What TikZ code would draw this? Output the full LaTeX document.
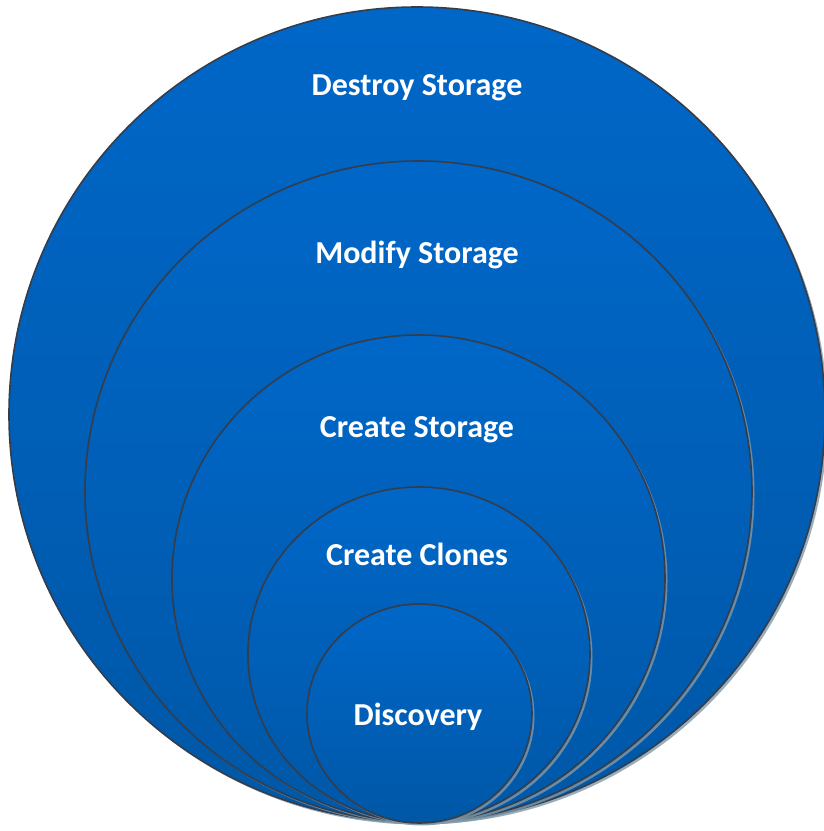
\documentclass[tikz,border=0pt]{standalone}
\usepackage{fontspec}
\setmainfont{Carlito}
\usetikzlibrary{shadows}
\definecolor{ringtop}{HTML}{0067C8}
\definecolor{ringbot}{HTML}{0057A6}
\definecolor{ringline}{HTML}{353C4A}
\definecolor{shadowc}{HTML}{7F99AA}
\tikzset{
  ring/.style={draw=ringline, line width=1.6pt, top color=ringtop, bottom color=ringbot,
    drop shadow={shadow xshift=2.5pt, shadow yshift=-2.5pt, fill=shadowc, opacity=0.8}},
  lbl/.style={text=white, font=\bfseries\fontsize{32}{38}\selectfont, inner sep=0pt}
}
\begin{document}
\begin{tikzpicture}[x=1pt,y=-1pt]
\useasboundingbox (0,0) rectangle (823,831);
\path[ring] (417,414.5) ellipse[x radius=408, y radius=407.5];
\path[ring] (418.5,491.5) ellipse[x radius=333.5, y radius=330.5];
\path[ring] (418.5,578.5) ellipse[x radius=246.5, y radius=243.5];
\path[ring] (419,654.5) ellipse[x radius=171, y radius=167.5];
\path[ring] (419.5,713.5) ellipse[x radius=112.5, y radius=109.5];
\node[lbl] (destroy) at (417,88) {Destroy Storage};
\node[lbl] (modify) at (417,255) {Modify Storage};
\node[lbl] (cstor) at (417,430) {Create Storage};
\node[lbl] (clones) at (417,554) {Create Clones};
\node[lbl] (disc) at (418,717) {Discovery};
\end{tikzpicture}
\end{document}
